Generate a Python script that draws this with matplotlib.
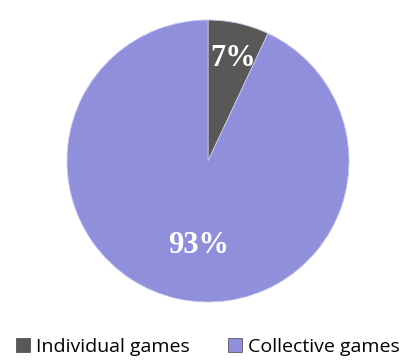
import matplotlib
matplotlib.use("Agg")
import matplotlib.pyplot as plt
from matplotlib.patches import Patch

categories = ["Individual games", "Collective games"]
values = [7, 93]
labels = ["7%", "93%"]
colors = ["#5a5757", "#8f8fdc"]

fig = plt.figure(figsize=(4.16, 3.63), dpi=100)
ax = fig.add_axes([67/416, 1 - 302/363, 282/416, 282/363])
wedges, _ = ax.pie(values, colors=colors, startangle=90, counterclock=False,
                   wedgeprops=dict(edgecolor="#c8c8ee", linewidth=0.6))
ax.set_aspect("equal")
ax.set_xlim(-1, 1)
ax.set_ylim(-1, 1)
ax.axis("off")

# labels
ax.text(0.18, 0.73, labels[0], color="white", fontsize=22, fontweight="bold",
        family="Liberation Serif", ha="center", va="center")
ax.text(-0.07, -0.60, labels[1], color="white", fontsize=22, fontweight="bold",
        family="Liberation Serif", ha="center", va="center")

handles = [Patch(facecolor=c, edgecolor="#444444", linewidth=0.5) for c in colors]
fig.legend(handles, categories, loc="center", bbox_to_anchor=(0.5, 1 - 347/363),
           ncol=2, frameon=False, handlelength=0.7, handleheight=0.7,
           handletextpad=0.3, columnspacing=2.0, prop={"family": "Open Sans", "size": 14})

fig.savefig("out.png", dpi=100, facecolor="white")
